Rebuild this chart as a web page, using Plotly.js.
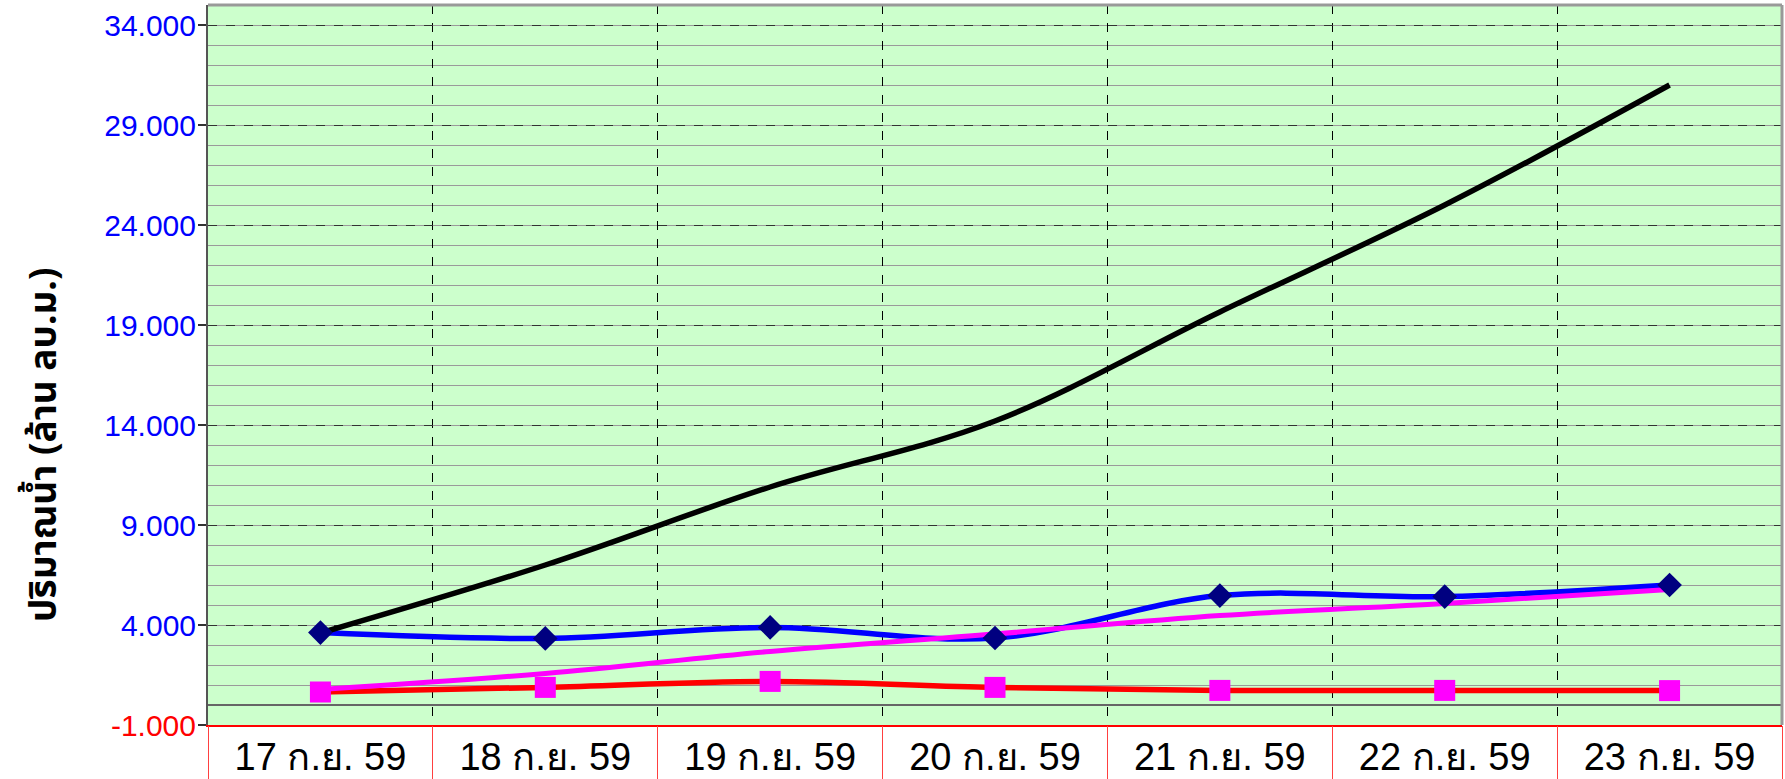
<!DOCTYPE html>
<html><head><meta charset="utf-8">
<script src="https://cdn.plot.ly/plotly-3.0.1.min.js"></script>
<style>html,body{margin:0;padding:0;background:#fff;}#chart{width:1785px;height:779px;}</style>
</head><body><div id="chart"></div>
<script>
const categories = ["17 ก.ย. 59","18 ก.ย. 59","19 ก.ย. 59","20 ก.ย. 59","21 ก.ย. 59","22 ก.ย. 59","23 ก.ย. 59"];
const seriesBlack = [3.6, 7.0, 10.9, 14.2, 19.65, 25.0, 31.0];
const seriesBlue = [3.62, 3.33, 3.88, 3.35, 5.47, 5.42, 6.0];
const seriesMagenta = [0.78, 1.58, 2.68, 3.55, 4.47, 5.08, 5.78];
const seriesRed = [0.65, 0.88, 1.18, 0.88, 0.73, 0.73, 0.72];
const yTickValues = [-1, 4, 9, 14, 19, 24, 29, 34];
const yTickLabels = ["-1.000","4.000","9.000","14.000","19.000","24.000","29.000","34.000"];
const yAxisTitle = "ปริมาณน้ำ (ล้าน ลบ.ม.)";

const W = 1785, H = 779;
const margin = {l: 208, r: 3, t: 5, b: 54, pad: 0};
const plotW = W - margin.l - margin.r;
const plotH = H - margin.t - margin.b;

const lineTrace = (y, color, width) => ({
  x: categories, y: y, type: 'scatter', mode: 'lines',
  line: {color: color, width: width, shape: 'spline', smoothing: 1},
  hoverinfo: 'skip', showlegend: false
});

const traces = [
  lineTrace(seriesBlue, '#0000ff', 5.5),
  lineTrace(seriesRed, '#ff0000', 5.5),
  lineTrace(seriesMagenta, '#ff00ff', 5),
  lineTrace(seriesBlack, '#000000', 5.5),
  {x: categories, y: seriesBlue, type: 'scatter', mode: 'markers',
   marker: {symbol: 'diamond', size: 19, color: '#000080', line: {width: 0}},
   hoverinfo: 'skip', showlegend: false},
  {x: categories, y: seriesRed, type: 'scatter', mode: 'markers',
   marker: {symbol: 'square', size: 21, color: '#ff00ff', line: {width: 0}},
   hoverinfo: 'skip', showlegend: false},
  {x: categories, y: categories.map(() => null), xaxis: 'x2', yaxis: 'y', type: 'scatter', mode: 'markers',
   hoverinfo: 'skip', showlegend: false}
];

const tickText = yTickLabels.map((t, i) => yTickValues[i] < 0 ? '<span style="color:#ff0000">' + t + '</span>' : t);

const layout = {
  width: W, height: H, margin: margin,
  paper_bgcolor: '#ffffff', plot_bgcolor: '#ccffcc',
  showlegend: false,
  xaxis: {
    type: 'category', categoryorder: 'array', categoryarray: categories,
    range: [-0.5, categories.length - 0.5],
    tickson: 'boundaries', ticks: '',
    showgrid: true, gridcolor: '#000000', griddash: 'dash', gridwidth: 1,
    showline: true, linecolor: '#ff0000', linewidth: 2,
    tickfont: {family: 'Arial, "Liberation Sans", sans-serif', size: 38, color: '#000000'},
    ticklabelstandoff: -3, zeroline: false, fixedrange: true
  },
  xaxis2: {
    type: 'category', categoryorder: 'array', categoryarray: categories,
    overlaying: 'x', anchor: 'y', side: 'bottom',
    range: [-0.5, categories.length - 0.5],
    tickson: 'boundaries', ticks: 'outside', ticklen: margin.b, tickwidth: 1, tickcolor: '#ff4040',
    showticklabels: false, showgrid: false, showline: false, zeroline: false, fixedrange: true
  },
  yaxis: {
    range: [-1, 35], tickmode: 'array', tickvals: yTickValues, ticktext: tickText,
    tickfont: {family: 'Arial, "Liberation Sans", sans-serif', size: 30, color: '#0000ff'},
    ticks: 'outside', ticklen: 8, tickwidth: 1.5, tickcolor: '#333333',
    ticklabelstandoff: -4,
    showgrid: true, gridcolor: '#333333', griddash: 'dash', gridwidth: 1,
    minor: {tickmode: 'linear', tick0: -1, dtick: 1, showgrid: true, gridcolor: '#9a9a9a', gridwidth: 1, griddash: 'solid', ticks: ''},
    zeroline: true, zerolinecolor: '#666666', zerolinewidth: 2,
    showline: true, linecolor: '#555555', linewidth: 2, fixedrange: true
  },
  shapes: [
    {type: 'line', xref: 'paper', yref: 'paper', x0: 0, x1: 1, y0: 1, y1: 1, line: {color: '#999999', width: 3}, layer: 'above'},
    {type: 'line', xref: 'paper', yref: 'paper', x0: 1, x1: 1, y0: 0, y1: 1, line: {color: '#999999', width: 3}, layer: 'above'}
  ],
  annotations: [{
    text: yAxisTitle, xref: 'paper', yref: 'paper',
    x: (45 - margin.l) / plotW, y: (H - margin.b - 445) / plotH,
    xanchor: 'center', yanchor: 'middle', textangle: -90, showarrow: false,
    font: {family: 'Tahoma, "Noto Sans Thai", "DejaVu Sans", sans-serif', size: 37, color: '#000000', weight: 'bold'}
  }]
};

Plotly.newPlot('chart', traces, layout, {staticPlot: true, displayModeBar: false});
</script>
</body></html>
